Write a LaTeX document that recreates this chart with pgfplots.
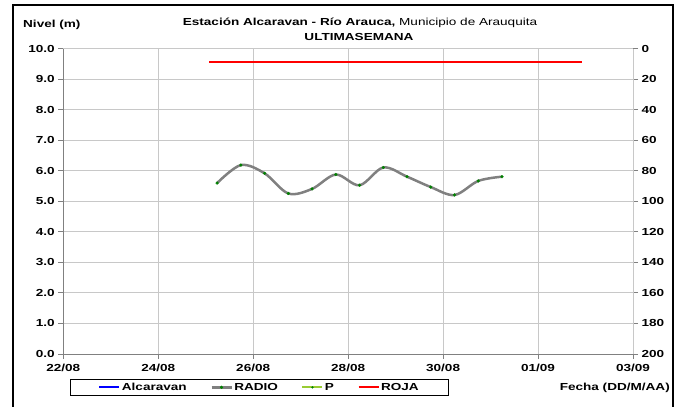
\documentclass[border=0pt]{standalone}
\usepackage{fontspec}
\setmainfont{Liberation Sans}[FakeStretch=1.33]
\usepackage{pgfplots}
\pgfplotsset{compat=1.18}
\definecolor{gridc}{HTML}{C8C8C8}
\definecolor{axc}{HTML}{808080}
\definecolor{radio}{HTML}{808080}
\definecolor{mk}{HTML}{008000}
\definecolor{pcol}{HTML}{99CC33}
\begin{document}
\fontsize{10.2bp}{12bp}\selectfont
\begin{tikzpicture}
\useasboundingbox (0,0) rectangle (679bp,-407bp);
\fill[white] (0,0) rectangle (679bp,-407bp);
\draw[line width=2bp] (13bp,-420bp) -- (13bp,-5bp) -- (673bp,-5bp) -- (673bp,-420bp);
\node[anchor=center] at (360bp,-23bp) {\textbf{Estación Alcaravan - Río Arauca,} Municipio de Arauquita};
\node[anchor=center] at (359bp,-37bp) {\textbf{ULTIMASEMANA}};
\node[anchor=west, inner sep=0pt] at (23bp,-25bp) {\textbf{Nivel (m)}};
\node[anchor=east, inner sep=0pt] at (670bp,-388bp) {\textbf{Fecha (DD/M/AA)}};
% secondary axis
\begin{axis}[
  at={(63.3bp,-354bp)}, anchor=south west,
  width=569.7bp, height=305.2bp, scale only axis,
  xmin=0, xmax=12, ymin=0, ymax=200, y dir=reverse,
  axis x line=none, axis y line*=right, ytick pos=right,
  y axis line style={-, draw=axc, line width=1bp},
  ytick={0,20,...,200},
  tick align=outside, major tick length=5bp,
  tick style={axc, line width=1bp},
  /pgf/number format/assume math mode=true,
  yticklabel style={font=\bfseries, /pgf/number format/fixed},
]
\end{axis}
% main axis
\begin{axis}[
  at={(63.3bp,-354bp)}, anchor=south west,
  width=569.7bp, height=305.2bp, scale only axis,
  xmin=0, xmax=12, ymin=0, ymax=10,
  xtick={0,2,...,12},
  xticklabels={22/08,24/08,26/08,28/08,30/08,01/09,03/09},
  ytick={0,1,...,10},
  axis x line*=bottom, axis y line*=left,
  tick pos=left,
  axis line style={-, draw=axc, line width=1bp},
  tick align=outside, major tick length=5bp,
  tick style={axc, line width=1bp},
  grid=major, major grid style={gridc, line width=1bp},
  /pgf/number format/assume math mode=true,
  tick label style={font=\bfseries},
  xticklabel style={yshift=-2bp},
  yticklabel style={/pgf/number format/fixed,/pgf/number format/fixed zerofill,/pgf/number format/precision=1},
  legend image code/.code={\draw[mark repeat=2,mark phase=2,#1] plot coordinates {(0bp,0bp) (10bp,0bp) (20bp,0bp)};},
  legend columns=4,
  legend style={at={(axis description cs:0.01176,-0.0819)}, anchor=north west,
    draw=black, line width=0.8bp, inner xsep=28bp, inner ysep=2bp,
    font=\bfseries, nodes={inner sep=1.5bp},
    /tikz/every even column/.append style={column sep=22bp}},
]
\addlegendimage{blue, line width=2bp}
\addlegendentry{Alcaravan}
\addplot[radio, line width=2.5bp, smooth, tension=0.55, mark=*, mark size=1.5bp,
  mark options={solid, fill=mk, draw=mk, line width=0.2bp}]
  coordinates {
  (3.24,5.60) (3.74,6.19) (4.24,5.92) (4.74,5.26) (5.24,5.41) (5.74,5.88)
  (6.24,5.53) (6.74,6.11) (7.24,5.81) (7.74,5.47) (8.24,5.21) (8.74,5.67)
  (9.24,5.81)};
\addlegendentry{RADIO}
\addlegendimage{pcol, line width=2bp, mark=*, mark size=1bp, mark options={solid, fill=mk, draw=mk, line width=0.2bp}}
\addlegendentry{P}
\addplot[red, line width=2bp] coordinates {(3.07,9.57) (10.92,9.57)};
\addlegendentry{ROJA}
\end{axis}
\end{tikzpicture}
\end{document}
